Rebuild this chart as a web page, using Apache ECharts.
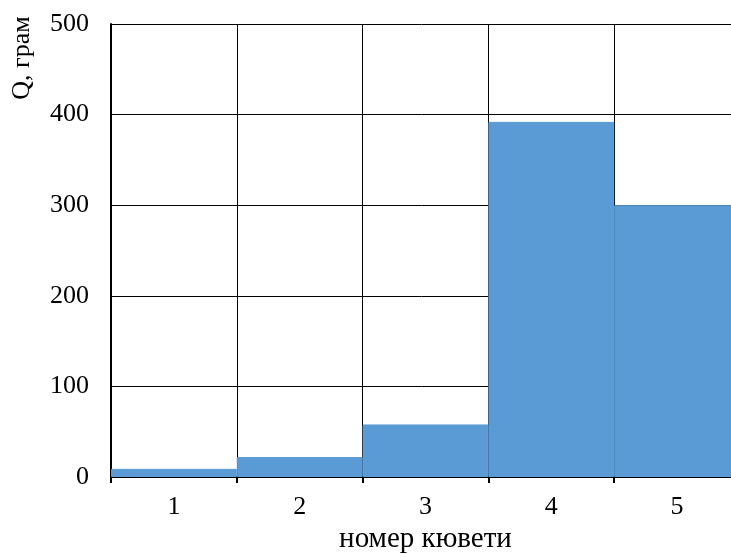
<!DOCTYPE html>
<html lang="uk">
<head>
    <meta charset="utf-8">
    <title>Q по кюветах</title>
    <script src="https://cdn.jsdelivr.net/npm/echarts@6/dist/echarts.min.js"></script>
    <style>
        html, body { margin: 0; padding: 0; background: #fff; }
        #chart { width: 731px; height: 554px; }
    </style>
</head>
<body>
    <div id="chart"></div>
    <script>
    // дані з графіка
    var cuvettes = ['1', '2', '3', '4', '5'];
    var qValues = [9, 22, 58, 392, 300];
    var yTicks = { min: 0, max: 500, step: 100 };

    var font = '"Liberation Serif", "Times New Roman", serif';
    var fs = 26;

    var myChart = echarts.init(document.getElementById('chart'));
    var option = {
        animation: false,
        grid: { left: 111, top: 24, right: -9, bottom: 77, outerBoundsMode: 'none', containLabel: false },
        xAxis: {
            type: 'category',
            data: cuvettes,
            name: 'номер кювети',
            nameLocation: 'middle',
            nameGap: 47,
            nameTextStyle: { color: '#000', fontFamily: font, fontSize: 29 },
            axisLine: { lineStyle: { color: '#000', width: 2 } },
            axisTick: { show: true, length: 6, lineStyle: { color: '#000', width: 2 } },
            axisLabel: { color: '#000', fontFamily: font, fontSize: fs, margin: 17 },
            splitLine: { show: true, lineStyle: { color: '#000', width: 1 } }
        },
        yAxis: {
            type: 'value',
            min: yTicks.min,
            max: yTicks.max,
            interval: yTicks.step,
            axisLine: { show: true, lineStyle: { color: '#000', width: 2 } },
            axisTick: { show: false },
            axisLabel: { color: '#000', fontFamily: font, fontSize: fs, margin: 22 },
            splitLine: { show: true, lineStyle: { color: '#000', width: 1 } }
        },
        // підпис осі Y, повернутий вертикально
        graphic: [{
            type: 'text',
            x: 22,
            y: 58,
            rotation: Math.PI / 2,
            style: {
                text: 'Q, грам',
                fill: '#000',
                font: fs + 'px ' + font,
                textAlign: 'center',
                textVerticalAlign: 'middle'
            }
        }],
        series: [{
            type: 'bar',
            data: qValues,
            barCategoryGap: '0%',
            // рамка того ж кольору, щоб не просвічували лінії сітки між стовпцями
            itemStyle: { color: '#5B9BD5', borderColor: '#5B9BD5', borderWidth: 1 }
        }]
    };
    myChart.setOption(option);
    </script>
</body>
</html>
